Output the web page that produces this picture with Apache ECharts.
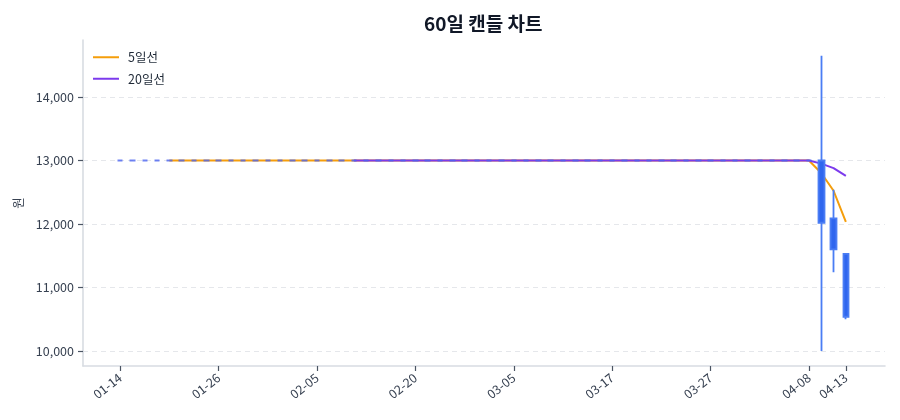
<!DOCTYPE html>
<html>
<head>
<meta charset="utf-8">
<script src="https://cdn.jsdelivr.net/npm/echarts@6/dist/echarts.min.js"></script>
<style>html,body{margin:0;padding:0;background:#fff}#chart{width:900px;height:420px}</style>
</head>
<body>
<div id="chart"></div>
<script>
const dates = [
  '01-14','01-15','01-16','01-17','01-20','01-21','01-22','01-23','01-26','01-27',
  '01-28','01-29','01-30','02-02','02-03','02-04','02-05','02-06','02-07','02-10',
  '02-11','02-12','02-13','02-17','02-20','02-21','02-24','02-25','02-26','02-27',
  '02-28','03-04','03-05','03-06','03-07','03-10','03-11','03-12','03-13','03-14',
  '03-17','03-18','03-19','03-20','03-21','03-24','03-25','03-26','03-27','03-28',
  '03-31','04-01','04-02','04-03','04-04','04-07','04-08','04-09','04-10','04-13'
];
const opens = [
  13000,13000,13000,13000,13000,13000,13000,13000,13000,13000,
  13000,13000,13000,13000,13000,13000,13000,13000,13000,13000,
  13000,13000,13000,13000,13000,13000,13000,13000,13000,13000,
  13000,13000,13000,13000,13000,13000,13000,13000,13000,13000,
  13000,13000,13000,13000,13000,13000,13000,13000,13000,13000,
  13000,13000,13000,13000,13000,13000,13000,13000,12090,11530
];
const closes = [
  13000,13000,13000,13000,13000,13000,13000,13000,13000,13000,
  13000,13000,13000,13000,13000,13000,13000,13000,13000,13000,
  13000,13000,13000,13000,13000,13000,13000,13000,13000,13000,
  13000,13000,13000,13000,13000,13000,13000,13000,13000,13000,
  13000,13000,13000,13000,13000,13000,13000,13000,13000,13000,
  13000,13000,13000,13000,13000,13000,13000,12020,11600,10540
];
const lows = [
  13000,13000,13000,13000,13000,13000,13000,13000,13000,13000,
  13000,13000,13000,13000,13000,13000,13000,13000,13000,13000,
  13000,13000,13000,13000,13000,13000,13000,13000,13000,13000,
  13000,13000,13000,13000,13000,13000,13000,13000,13000,13000,
  13000,13000,13000,13000,13000,13000,13000,13000,13000,13000,
  13000,13000,13000,13000,13000,13000,13000,10000,11240,10500
];
const highs = [
  13000,13000,13000,13000,13000,13000,13000,13000,13000,13000,
  13000,13000,13000,13000,13000,13000,13000,13000,13000,13000,
  13000,13000,13000,13000,13000,13000,13000,13000,13000,13000,
  13000,13000,13000,13000,13000,13000,13000,13000,13000,13000,
  13000,13000,13000,13000,13000,13000,13000,13000,13000,13000,
  13000,13000,13000,13000,13000,13000,13000,14650,12540,11530
];
const ma5 = [
  null,null,null,null,13000,13000,13000,13000,13000,13000,
  13000,13000,13000,13000,13000,13000,13000,13000,13000,13000,
  13000,13000,13000,13000,13000,13000,13000,13000,13000,13000,
  13000,13000,13000,13000,13000,13000,13000,13000,13000,13000,
  13000,13000,13000,13000,13000,13000,13000,13000,13000,13000,
  13000,13000,13000,13000,13000,13000,13000,12804,12524,12032
];
const ma20 = [
  null,null,null,null,null,null,null,null,null,null,
  null,null,null,null,null,null,null,null,null,13000,
  13000,13000,13000,13000,13000,13000,13000,13000,13000,13000,
  13000,13000,13000,13000,13000,13000,13000,13000,13000,13000,
  13000,13000,13000,13000,13000,13000,13000,13000,13000,13000,
  13000,13000,13000,13000,13000,13000,13000,12951,12881,12758
];
const yTicks = [10000, 11000, 12000, 13000, 14000];
const labelIndexes = [0, 8, 16, 24, 32, 40, 48, 56, 59];

const candleData = dates.map((d, i) => [opens[i], closes[i], lows[i], highs[i]]);
const yMin = 9764, yMax = 14898;
const FONT = '"Noto Sans CJK KR", "Noto Sans", sans-serif';
const showIdx = (i) => labelIndexes.indexOf(i) >= 0;

const chart = echarts.init(document.getElementById('chart'));
chart.setOption({
  animation: false,
  backgroundColor: '#ffffff',
  textStyle: { fontFamily: FONT },
  title: {
    text: '60일 캔들 차트',
    left: 419, top: 9,
    textStyle: { fontFamily: FONT, fontSize: 19, fontWeight: 'bold', color: '#111827' }
  },
  legend: {
    orient: 'vertical', left: 88, top: 46, itemGap: 9,
    itemWidth: 26, itemHeight: 2, icon: 'rect',
    textStyle: { fontFamily: FONT, fontSize: 12.5, color: '#1f2937', padding: [0, 0, 0, 4] },
    data: ['5일선', '20일선']
  },
  grid: [
    { left: 83, right: 15, top: 40, bottom: 54 },
    { left: 114, right: 48, top: 40, bottom: 54 }
  ],
  xAxis: [
    {
      type: 'value', gridIndex: 0, min: 0, max: 1,
      axisLine: { show: true, lineStyle: { color: '#d8dce2', width: 1.6 } },
      axisTick: { show: false }, axisLabel: { show: false }, splitLine: { show: false }
    },
    {
      type: 'category', gridIndex: 1, data: dates, boundaryGap: true,
      axisLine: { show: false },
      axisTick: { show: true, alignWithLabel: true, length: 5, interval: (i) => showIdx(i),
        lineStyle: { color: '#4b5563', width: 1.2 } },
      axisLabel: { interval: (i) => showIdx(i), rotate: 38, margin: 10,
        fontFamily: FONT, fontSize: 12.5, color: '#374151' },
      splitLine: { show: false }
    }
  ],
  yAxis: [
    {
      type: 'value', gridIndex: 0, min: yMin, max: yMax,
      name: '원', nameLocation: 'middle', nameGap: 58, nameRotate: 90,
      nameTextStyle: { fontFamily: FONT, fontSize: 12.5, color: '#374151' },
      axisLine: { show: true, lineStyle: { color: '#d8dce2', width: 1.6 } },
      axisTick: { show: true, length: 5, customValues: yTicks, lineStyle: { color: '#4b5563', width: 1.2 } },
      axisLabel: { customValues: yTicks, margin: 9, fontFamily: FONT, fontSize: 12.5, color: '#374151',
        formatter: (v) => Number(v).toLocaleString('en-US') },
      splitLine: { show: true, lineStyle: { color: '#e5e7eb', type: [5, 4], width: 1 } }
    },
    { type: 'value', gridIndex: 1, min: yMin, max: yMax, show: false }
  ],
  series: [
    {
      name: '5일선', type: 'line', xAxisIndex: 1, yAxisIndex: 1, data: ma5,
      symbol: 'none', z: 2,
      lineStyle: { color: '#f59e0b', width: 2 }, itemStyle: { color: '#f59e0b' }
    },
    {
      name: '20일선', type: 'line', xAxisIndex: 1, yAxisIndex: 1, data: ma20,
      symbol: 'none', z: 2,
      lineStyle: { color: '#7c3aed', width: 2 }, itemStyle: { color: '#7c3aed' }
    },
    {
      name: '캔들', type: 'candlestick', xAxisIndex: 1, yAxisIndex: 1, data: candleData,
      barWidth: 6, z: 3,
      itemStyle: {
        color: '#ef4444', borderColor: '#ef4444',
        color0: '#2f66ee', borderColor0: '#4a7df4',
        borderColorDoji: 'rgba(75,100,240,0.8)',
        borderWidth: 1.8
      }
    }
  ]
});
</script>
</body>
</html>
